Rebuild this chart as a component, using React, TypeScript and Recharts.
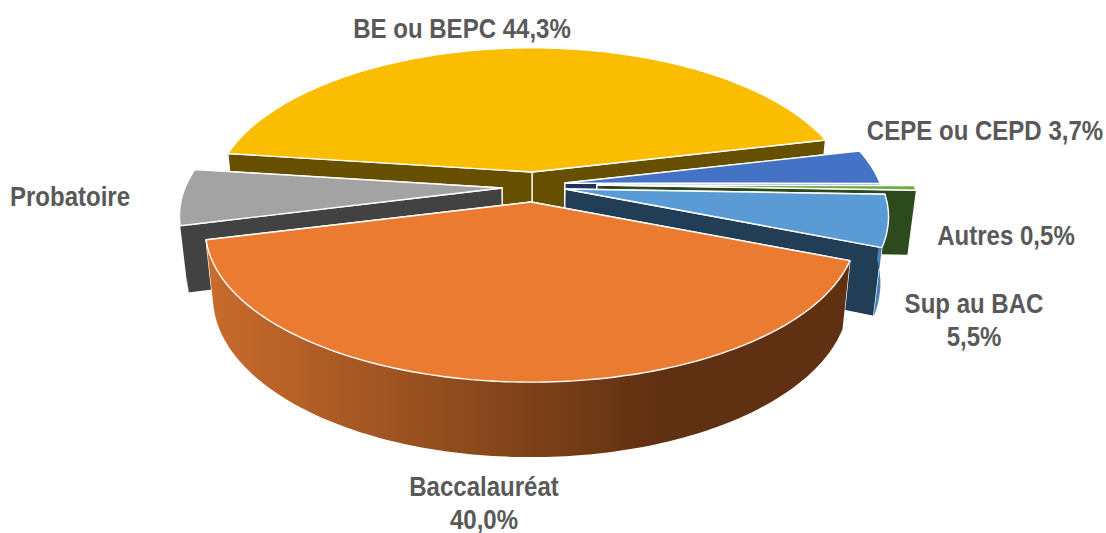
import { PieChart, Pie } from 'recharts'

const categories = ['Probatoire', 'BE ou BEPC', 'CEPE ou CEPD', 'Autres', 'Sup au BAC', 'Baccalauréat']
const shares = [6.0, 44.3, 3.7, 0.5, 5.5, 40.0]
const valueLabels = ['', '44,3%', '3,7%', '0,5%', '5,5%', '40,0%']

const topColors = ['#a3a3a3', '#fbbd00', '#4472c4', '#70ad47', '#5b9bd5', '#eb7b30']
const wallColors = ['#424242', '#665000', '#1f3560', '#2c4a1c', '#223d56', '#5f3011']
const rimColors = ['#424242', '#665000', '#2f5597', '#2c4a1c', '#4a80b2', 'url(#rimGrad)']

// how far each slice is pulled out of the pie, and its radius (the picture is not quite regular)
const sliceDx = [-29, 1, 34, 66, 34, 0]
const sliceDy = [-2, -18, -7, -5, -1, 12]
const sliceRadius = [317, 314, 315, 317, 318, 320]

const labelX = [70, 462, 985, 1006, 974, 484]
const labelY = [196, 28, 130, 235, 303, 486]
const labelWraps = [false, false, false, false, true, true]

const data = categories.map((name, i) => ({ name, value: shares[i], index: i }))

const CX = 531
const CY = 190
const PERSPECTIVE = 0.184
const FLATTEN = 147
const BACK_SLICE = 1 // BE ou BEPC sits behind everything, so it gets its own layer

function rimPoint(ax: number, ay: number, r: number, deg: number) {
  const t = (deg * Math.PI) / 180
  const v = Math.sin(t)
  const s = 1 / (1 - PERSPECTIVE * v)
  return { x: ax + r * Math.cos(t) * s, y: ay + FLATTEN * v * s, v }
}

function dropped(p: { x: number; y: number; v: number }) {
  const depth = 65 + 10 * p.v
  return { x: p.x - (p.x - CX) * depth * 0.00034, y: p.y + depth, v: p.v }
}

const toPath = (pts: { x: number; y: number }[]) =>
  'M' + pts.map(p => `${p.x.toFixed(1)},${p.y.toFixed(1)}`).join('L') + 'Z'

function Slice3D(props: any) {
  const { startAngle, endAngle, payload } = props
  const i = payload.index
  const ax = CX + sliceDx[i]
  const ay = CY + sliceDy[i]
  const r = sliceRadius[i]
  const from = -startAngle
  const to = -endAngle

  const angles: number[] = []
  for (let a = from; a < to; a += 1) angles.push(a)
  angles.push(to)
  const rim = angles.map(a => rimPoint(ax, ay, r, a))

  const apex = { x: ax, y: ay, v: 0 }
  const radial = [rim[0], rim[rim.length - 1]].sort((a, b) => a.v - b.v)
  const front = rim.filter(p => p.v >= -0.001)
  const frontWall = front.length > 1 ? [...front, ...[...front].reverse().map(dropped)] : null

  return (
    <g>
      {radial.map((p, k) => (
        <path
          key={k}
          d={toPath([apex, p, dropped(p), dropped(apex)])}
          fill={wallColors[i]}
          stroke="#fff"
          strokeWidth={1.3}
          strokeLinejoin="round"
        />
      ))}
      {frontWall && <path d={toPath(frontWall)} fill={rimColors[i]} />}
      <path d={toPath([apex, ...rim])} fill={topColors[i]} stroke="#fff" strokeWidth={1.4} strokeLinejoin="round" />
    </g>
  )
}

const backLayer = (props: any) => (props.payload.index === BACK_SLICE ? <Slice3D {...props} /> : <g />)
const frontLayer = (props: any) => (props.payload.index !== BACK_SLICE ? <Slice3D {...props} /> : <g />)

function renderLabel(props: any) {
  const i = props.payload?.index ?? props.index
  // no narrow font here, so squeeze the bold one to the width of the original
  const transform = `translate(${labelX[i]} ${labelY[i]}) scale(0.89 1)`
  const style = { fontFamily: '"Liberation Sans", Arial, sans-serif', fontWeight: 700, fontSize: 27 }
  if (labelWraps[i]) {
    return (
      <text transform={transform} textAnchor="middle" dominantBaseline="central" fill="#595959" style={style}>
        <tspan x={0}>{categories[i]}</tspan>
        <tspan x={0} dy={33}>{valueLabels[i]}</tspan>
      </text>
    )
  }
  return (
    <text transform={transform} textAnchor="middle" dominantBaseline="central" fill="#595959" style={style}>
      {valueLabels[i] ? `${categories[i]} ${valueLabels[i]}` : categories[i]}
    </text>
  )
}

export default function App() {
  const pieProps = {
    data,
    dataKey: 'value',
    nameKey: 'name',
    cx: CX,
    cy: CY,
    outerRadius: 316,
    startAngle: -165.8,
    endAngle: -525.8,
    stroke: 'none',
    isAnimationActive: false,
  }
  return (
    <div style={{ position: 'absolute', left: 0, top: 0, width: 1106, height: 533, background: '#fff' }}>
      <PieChart width={1106} height={533} margin={{ top: 0, right: 0, bottom: 0, left: 0 }}>
        <defs>
          <linearGradient id="rimGrad" gradientUnits="userSpaceOnUse" x1="214" y1="0" x2="660" y2="0">
            <stop offset="0%" stopColor="#c86b2c" />
            <stop offset="100%" stopColor="#5f3011" />
          </linearGradient>
        </defs>
        <Pie {...pieProps} shape={backLayer} />
        <Pie {...pieProps} shape={frontLayer} label={renderLabel} labelLine={false} />
      </PieChart>
    </div>
  )
}
